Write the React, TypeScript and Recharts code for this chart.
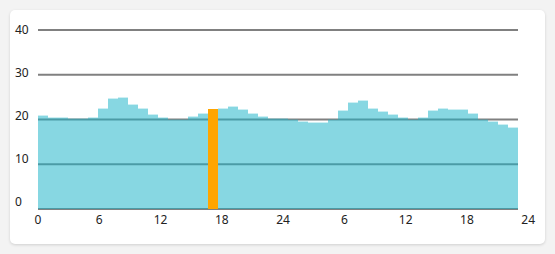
import { Bar, BarChart, CartesianGrid, XAxis, YAxis } from "recharts"

// hourly values over two days (48 bars)
const hours = Array.from({ length: 48 }, (_, i) => i)
const values = [
  20.9, 20.4, 20.4, 20.3, 20.3, 20.5, 22.4, 24.6, 24.9, 23.3, 22.4, 21.2,
  20.4, 20.1, 20.1, 20.6, 21.4, 22.4, 22.5, 22.8, 22.2, 21.3, 20.7, 20.3,
  20.2, 19.9, 19.6, 19.3, 19.3, 19.9, 21.9, 23.7, 24.3, 22.5, 21.7, 21.2,
  20.4, 20.1, 20.4, 21.9, 22.4, 22.3, 22.2, 21.3, 20.1, 19.5, 18.9, 18.2,
]
const highlightIndex = 17

const xTicks = [0, 6, 12, 18, 24, 30, 36, 42, 48]
const xTickLabels = ["0", "6", "12", "18", "24", "6", "12", "18", "24"]
const yTicks = [0, 10, 20, 30, 40]

const data = hours.map((h, i) => ({ h, v: values[i] }))

const font = "'Noto Sans', sans-serif"

function YTick({ y, payload }: any) {
  const dy = -(40 - payload.value) * 0.17
  return (
    <text x={5} y={y + dy} dy="0.35em" fontSize={12} fontFamily={font} fill="#222" textAnchor="start">
      {payload.value}
    </text>
  )
}

function XTick({ x, payload }: any) {
  const idx = xTicks.indexOf(payload.value)
  return (
    <text x={x} y={205} dy="0.71em" fontSize={12} fontFamily={font} fill="#222" textAnchor="middle">
      {xTickLabels[idx]}
    </text>
  )
}

// snap bar sides to whole pixels so neighbours meet without seams
function HourBar(props: any) {
  const { x, y, width, height, index } = props
  const x0 = Math.round(x)
  const x1 = Math.round(x + width)
  const hi = index === highlightIndex
  if (hi) {
    return (
      <rect x={x0} y={Math.round(y)} width={x1 - x0} height={Math.round(height)} fill="#ffa500" />
    )
  }
  const top = Math.floor(y)
  const bottom = Math.round(y + height)
  return (
    <g shapeRendering="crispEdges">
      <rect x={x0} y={top} width={x1 - x0} height={1} fill="rgb(29,180,200)" fillOpacity={0.22} />
      <rect x={x0} y={top + 1} width={x1 - x0} height={bottom - top - 1} fill="rgb(29,180,200)" fillOpacity={0.53} />
    </g>
  )
}

export default function App() {
  return (
    <div style={{ position: "fixed", inset: 0, background: "#f3f3f3" }}>
      <div
        style={{
          position: "absolute",
          left: 10,
          top: 10,
          width: 535,
          height: 234,
          background: "#fff",
          borderRadius: 5,
          boxShadow: "0 1px 3px rgba(0,0,0,0.15)",
        }}
      >
        <BarChart
          width={535}
          height={234}
          data={data}
          barCategoryGap={0}
          margin={{ top: 20, right: 27, left: 0, bottom: 5 }}
        >
          <CartesianGrid vertical={false} stroke="#808080" strokeWidth={2} />
          <XAxis dataKey="h" hide />
          <XAxis
            xAxisId="t"
            type="number"
            domain={[0, 48]}
            ticks={xTicks}
            axisLine={false}
            tickLine={false}
            height={30}
            tick={<XTick />}
            interval={0}
          />
          <YAxis
            domain={[0, 40]}
            ticks={yTicks}
            width={28}
            axisLine={false}
            tickLine={false}
            tick={<YTick />}
          />
          <Bar dataKey="v" isAnimationActive={false} shape={<HourBar />} />
        </BarChart>
      </div>
    </div>
  )
}
